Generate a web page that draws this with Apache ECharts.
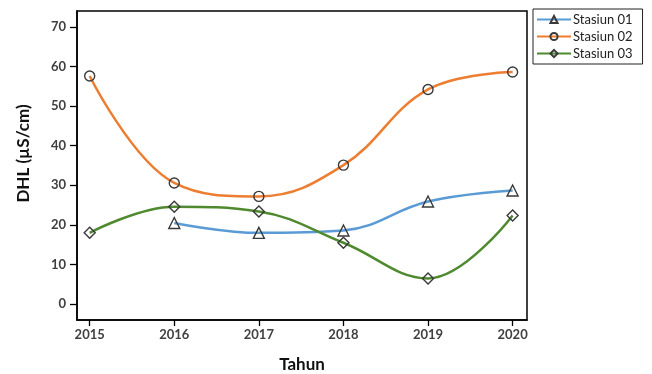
<!DOCTYPE html>
<html><head><meta charset="utf-8">
<script src="https://cdn.jsdelivr.net/npm/echarts@6/dist/echarts.min.js"></script>
<style>html,body{margin:0;padding:0;background:#fff}#c{width:652px;height:374px}</style>
</head><body><div id="c"></div>
<script>
const years = [2015, 2016, 2017, 2018, 2019, 2020];
const stasiun01 = [null, 20.5, 18.0, 18.6, 25.9, 28.7];
const stasiun02 = [57.6, 30.6, 27.2, 35.1, 54.2, 58.6];
const stasiun03 = [18.0, 24.6, 23.4, 15.5, 6.5, 22.4];
const yTicks = [0, 10, 20, 30, 40, 50, 60, 70];
const names = ['Stasiun 01', 'Stasiun 02', 'Stasiun 03'];

function pairs(vals) {
  const out = [];
  years.forEach((y, i) => { if (vals[i] !== null) out.push([y, vals[i]]); });
  return out;
}
const font = 'Lato, "Open Sans", sans-serif';
function mk(name, vals, color, symbol, size) {
  return {
    name: name, type: 'line', data: pairs(vals), smooth: 0.4,
    symbol: symbol, symbolSize: size, showAllSymbol: true,
    lineStyle: { color: color, width: 2.5 },
    itemStyle: { color: 'rgba(255,255,255,0)', borderColor: '#3a3a3a', borderWidth: 1.4 },
    emphasis: { disabled: true }
  };
}
const chart = echarts.init(document.getElementById('c'));
chart.setOption({
  animation: false,
  backgroundColor: '#ffffff',
  grid: { left: 77, right: 125, top: 11, bottom: 54, outerBoundsMode: 'none', containLabel: false, show: true, borderColor: '#000', borderWidth: 1.5, backgroundColor: 'transparent' },
  legend: {
    left: 533, top: 9, orient: 'vertical', itemGap: 4, itemWidth: 34, itemHeight: 9,
    padding: [4, 10, 4, 3], borderColor: '#222', borderWidth: 1,
    textStyle: { fontFamily: font, fontSize: 13, color: '#222', padding: [0, 0, 0, -3] },
    data: names
  },
  xAxis: {
    type: 'value', min: 2014.85, max: 2020.17,
    name: 'Tahun', nameLocation: 'middle', nameGap: 36,
    nameTextStyle: { fontFamily: font, fontSize: 17, fontWeight: 'bold', color: '#111' },
    axisLine: { show: true, onZero: false, lineStyle: { color: '#000', width: 1.5 } },
    axisTick: { show: true, length: 6, customValues: years, lineStyle: { color: '#000', width: 1.3 } },
    axisLabel: { customValues: years, margin: 8, fontFamily: font, fontSize: 13, fontWeight: 'bold', color: '#404040', formatter: v => String(Math.round(v)) },
    splitLine: { show: false }
  },
  yAxis: {
    type: 'value', min: -4, max: 74,
    name: 'DHL (µS/cm)', nameLocation: 'middle', nameGap: 45, nameRotate: 90,
    nameTextStyle: { fontFamily: font, fontSize: 17, fontWeight: 'bold', color: '#111', padding: [0, 0, 0, 24] },
    axisLine: { show: true, onZero: false, lineStyle: { color: '#000', width: 1.5 } },
    axisTick: { show: true, length: 7, customValues: yTicks, lineStyle: { color: '#000', width: 1.3 } },
    axisLabel: { customValues: yTicks, margin: 11, fontFamily: font, fontSize: 13, fontWeight: 'bold', color: '#404040' },
    splitLine: { show: false }
  },
  series: [
    mk(names[0], stasiun01, '#5b9bd5', 'triangle', 11),
    mk(names[1], stasiun02, '#ed7d31', 'circle', 10),
    mk(names[2], stasiun03, '#4f8a2f', 'diamond', 11)
  ]
});
</script></body></html>
